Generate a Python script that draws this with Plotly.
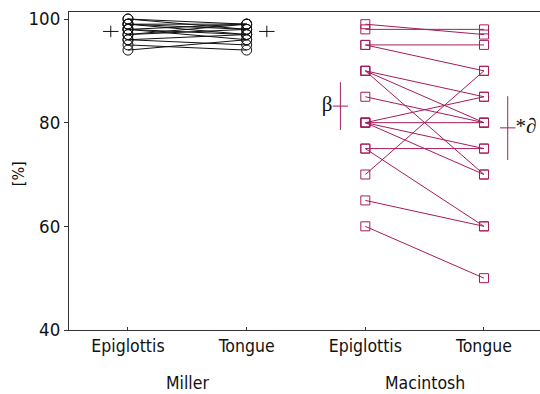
import plotly.graph_objects as go

# ---------------- data ----------------
categories = ["Epiglottis", "Tongue", "Epiglottis", "Tongue"]
groups = ["Miller", "Macintosh"]
y_title = "[%]"

miller_epiglottis = [100, 100, 99, 99, 99, 98, 98, 98, 97, 97, 96, 96, 95, 94]
miller_tongue     = [99, 98, 99, 97, 98, 99, 96, 97, 98, 99, 97, 95, 94, 96]

mac_epiglottis = [99, 98, 95, 95, 90, 90, 90, 85, 80, 80, 80, 80, 75, 75, 70, 65, 60]
mac_tongue     = [97, 98, 95, 90, 85, 80, 70, 80, 85, 80, 75, 70, 75, 60, 90, 60, 50]

# summary markers (mean with spread)
miller_summary_mean = [97.6, 97.6]
miller_summary_err = [1.1, 1.1]
mac_summary_mean = [83.2, 79.0]
mac_summary_plus = [4.6, 6.1]
mac_summary_minus = [4.6, 6.2]
mac_summary_labels = ["β", "*<i>∂</i>"]

FONT = "DejaVu Sans Condensed, DejaVu Sans, sans-serif"
SERIF = "Liberation Serif, DejaVu Serif, serif"
BLACK = "#111111"
MAG = "#a51c5c"

x_pos = [1, 2, 3, 4]


def pair_lines(a, b, xa, xb):
    xs, ys = [], []
    for va, vb in zip(a, b):
        xs += [xa, xb, None]
        ys += [va, vb, None]
    return xs, ys


fig = go.Figure()

# Miller lines
mx, my = pair_lines(miller_epiglottis, miller_tongue, x_pos[0], x_pos[1])
fig.add_trace(go.Scatter(x=mx, y=my, mode="lines", line=dict(color=BLACK, width=1),
                         hoverinfo="skip", showlegend=False))
fig.add_trace(go.Scatter(
    x=[x_pos[0]] * len(miller_epiglottis) + [x_pos[1]] * len(miller_tongue),
    y=miller_epiglottis + miller_tongue, mode="markers",
    marker=dict(symbol="circle-open", size=10, color=BLACK, line=dict(width=1)),
    showlegend=False))

# Macintosh lines
cx, cy = pair_lines(mac_epiglottis, mac_tongue, x_pos[2], x_pos[3])
fig.add_trace(go.Scatter(x=cx, y=cy, mode="lines", line=dict(color=MAG, width=1),
                         hoverinfo="skip", showlegend=False))
fig.add_trace(go.Scatter(
    x=[x_pos[2]] * len(mac_epiglottis) + [x_pos[3]] * len(mac_tongue),
    y=mac_epiglottis + mac_tongue, mode="markers",
    marker=dict(symbol="square-open", size=9, color=MAG, line=dict(width=1)),
    showlegend=False))

# Miller summary "+"
fig.add_trace(go.Scatter(
    x=[x_pos[0] - 0.145, x_pos[1] + 0.17], y=miller_summary_mean, mode="markers",
    marker=dict(symbol="line-ew", size=11, line=dict(color=BLACK, width=1)),
    error_y=dict(type="data", array=miller_summary_err, width=0, thickness=1, color=BLACK),
    showlegend=False))

# Macintosh summary bars with labels
fig.add_trace(go.Scatter(
    x=[x_pos[2] - 0.21, x_pos[3] + 0.2], y=mac_summary_mean, mode="markers+text",
    text=mac_summary_labels, textposition=["middle left", "middle right"],
    textfont=dict(family=SERIF, size=21, color=BLACK),
    marker=dict(symbol="line-ew", size=11, line=dict(color=MAG, width=1)),
    error_y=dict(type="data", symmetric=False, array=mac_summary_plus,
                 arrayminus=mac_summary_minus, width=0, thickness=1, color=MAG),
    showlegend=False))

# group labels
for gx, g in zip([1.5, 3.5], groups):
    fig.add_annotation(x=gx, y=0, xref="x", yref="paper", yshift=-41, text=g,
                       showarrow=False, yanchor="top",
                       font=dict(family=FONT, size=17.5, color=BLACK))

# y-axis title
fig.add_annotation(x=0, y=0.49, xref="paper", yref="paper", xshift=-51, text=y_title,
                   textangle=-90, showarrow=False, xanchor="center", yanchor="middle",
                   font=dict(family=FONT, size=16, color=BLACK))

fig.update_layout(
    width=540, height=394,
    margin=dict(l=69, r=0, t=12, b=64),
    paper_bgcolor="white", plot_bgcolor="white",
    font=dict(family=FONT, size=17.5, color=BLACK),
    xaxis=dict(range=[0.503, 4.472], tickvals=x_pos, ticktext=categories,
               showgrid=False, zeroline=False, showline=True, linecolor="#333",
               linewidth=1, mirror=True, ticks="inside", ticklen=3, tickcolor="#333",
               tickfont=dict(family=FONT, size=17.5, color=BLACK)),
    yaxis=dict(range=[40, 101.35], tickvals=[40, 60, 80, 100],
               showgrid=False, zeroline=False, showline=True, linecolor="#333",
               linewidth=1, ticks="outside", ticklen=4, tickcolor="#333",
               tickfont=dict(family=FONT, size=18.5, color=BLACK)),
)

fig.write_html(
    "out.html", config={"displayModeBar": False},
    post_script=("document.body.style.margin='0';"
                 "document.body.style.overflow='hidden';"
                 "document.documentElement.style.overflow='hidden';"))
